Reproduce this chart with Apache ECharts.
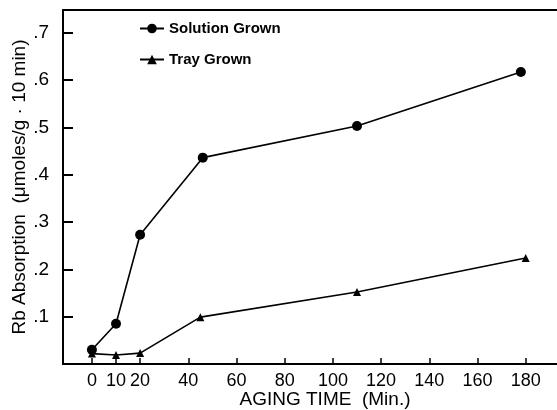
<!DOCTYPE html>
<html>
<head>
<meta charset="utf-8">
<script src="https://cdn.jsdelivr.net/npm/echarts@6/dist/echarts.min.js"></script>
<style>
  html, body { margin: 0; padding: 0; background: #fff; }
  #chart { width: 557px; height: 410px; }
</style>
</head>
<body>
<div id="chart"></div>
<script>
// aging time (min) and Rb absorption values
var solutionTimes = [0, 10, 20, 46, 110, 178];
var solutionValues = [0.03, 0.085, 0.273, 0.436, 0.503, 0.617];
var trayTimes = [0, 10, 20, 45, 110, 180];
var trayValues = [0.022, 0.019, 0.023, 0.099, 0.152, 0.224];
var xTicks = [0, 10, 20, 40, 60, 80, 100, 120, 140, 160, 180];

function pairs (xs, ys) {
  var out = [];
  for (var i = 0; i < xs.length; i++) {
    out.push([xs[i], ys[i]]);
  }
  return out;
}

var font = 'Liberation Sans';
var chart = echarts.init(document.getElementById('chart'));
chart.setOption({
  backgroundColor: '#fff',
  animation: false,
  grid: { left: 63, right: 0, top: 10, bottom: 46, containLabel: false, outerBoundsMode: 'none' },
  legend: {
    orient: 'vertical',
    left: 134,
    top: 16,
    itemGap: 16,
    itemWidth: 24,
    itemHeight: 12,
    textStyle: { color: '#000', fontFamily: font, fontSize: 15, fontWeight: 'bold' },
    data: ['Solution Grown', 'Tray Grown']
  },
  xAxis: [{
    type: 'value',
    min: -12,
    max: 193,
    name: 'AGING TIME  (Min.)',
    nameLocation: 'middle',
    nameGap: 26,
    nameMoveOverlap: false,
    nameTextStyle: { color: '#000', fontFamily: font, fontSize: 19, padding: [0, 0, 0, 30] },
    axisLine: { show: true, onZero: false, lineStyle: { color: '#000', width: 2 } },
    axisTick: { show: true, inside: true, length: 6, customValues: xTicks, lineStyle: { color: '#000', width: 1.5 } },
    axisLabel: { customValues: xTicks, color: '#000', fontFamily: font, fontSize: 18, margin: 8 },
    splitLine: { show: false }
  }, {
    type: 'value',
    position: 'top',
    min: -12,
    max: 193,
    axisLine: { show: true, onZero: false, lineStyle: { color: '#000', width: 2 } },
    axisTick: { show: false },
    axisLabel: { show: false },
    splitLine: { show: false }
  }],
  yAxis: {
    type: 'value',
    min: 0,
    max: 0.748,
    interval: 0.1,
    name: 'Rb Absorption  (μmoles/g · 10 min)',
    nameLocation: 'middle',
    nameGap: 34,
    nameMoveOverlap: false,
    nameTextStyle: { color: '#000', fontFamily: font, fontSize: 19 },
    axisLine: { show: true, onZero: false, lineStyle: { color: '#000', width: 2 } },
    axisTick: { show: true, inside: true, length: 10, lineStyle: { color: '#000', width: 2 } },
    axisLabel: {
      color: '#000',
      fontFamily: font,
      fontSize: 19,
      margin: 14,
      showMaxLabel: false,
      formatter: function (v) {
        if (v < 0.05 || v > 0.72) return '';
        return String(Math.round(v * 10) / 10).replace('0.', '.');
      }
    },
    splitLine: { show: false }
  },
  series: [{
    name: 'Solution Grown',
    type: 'line',
    data: pairs(solutionTimes, solutionValues),
    symbol: 'circle',
    symbolSize: 10,
    itemStyle: { color: '#000' },
    lineStyle: { color: '#000', width: 1.6 }
  }, {
    name: 'Tray Grown',
    type: 'line',
    data: pairs(trayTimes, trayValues),
    symbol: 'triangle',
    symbolSize: 8,
    itemStyle: { color: '#000' },
    lineStyle: { color: '#000', width: 1.6 }
  }]
});
</script>
</body>
</html>
